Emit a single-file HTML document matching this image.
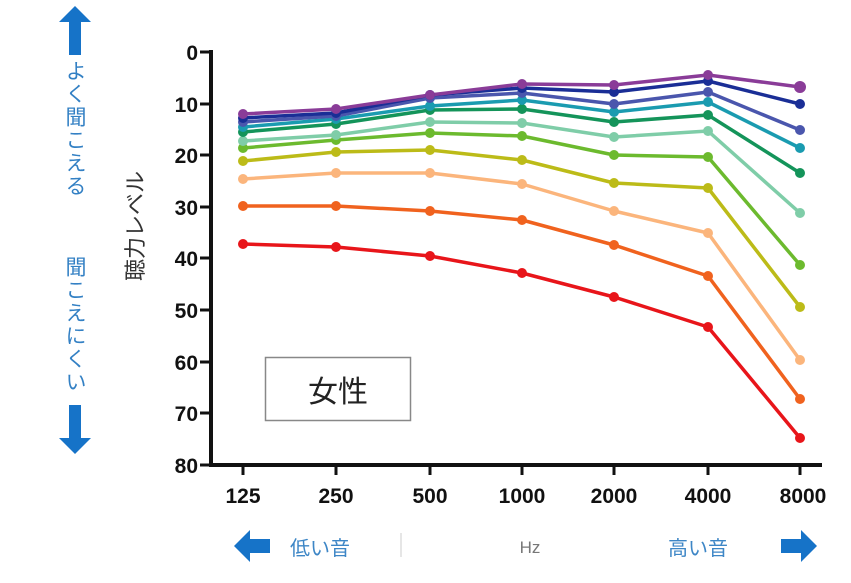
<!DOCTYPE html>
<html><head><meta charset="utf-8"><style>
html,body{margin:0;padding:0;background:#fff;}
body{width:851px;height:583px;overflow:hidden;position:relative;font-family:"Liberation Sans","Noto Sans CJK JP",sans-serif;}
.v{position:absolute;writing-mode:vertical-rl;color:#3380c4;font-size:21px;letter-spacing:2px;line-height:1;font-family:"Liberation Sans","Noto Sans CJK JP",sans-serif;}
</style></head><body>
<svg width="851" height="583" style="position:absolute;left:0;top:0" font-family="Liberation Sans, Noto Sans CJK JP, sans-serif">
<g fill="#1673c8">
<polygon points="75,6 91,22 81,22 81,55 69,55 69,22 59,22"/>
<polygon points="75,454 91,438 81,438 81,405 69,405 69,438 59,438"/>
<polygon points="234,546 250,530 250,539 270,539 270,553 250,553 250,562"/>
<polygon points="817,546 801,530 801,539 781,539 781,553 801,553 801,562"/>
</g>
<g stroke="#111" stroke-width="4" fill="none">
<line x1="211" y1="50" x2="211" y2="467"/>
<line x1="209" y1="465" x2="822" y2="465"/>
</g>
<g stroke="#111" stroke-width="3">
<line x1="200" y1="52" x2="211" y2="52"/><line x1="200" y1="104" x2="211" y2="104"/>
<line x1="200" y1="155" x2="211" y2="155"/><line x1="200" y1="207" x2="211" y2="207"/>
<line x1="200" y1="258" x2="211" y2="258"/><line x1="200" y1="310" x2="211" y2="310"/>
<line x1="200" y1="362" x2="211" y2="362"/><line x1="200" y1="413" x2="211" y2="413"/>
<line x1="200" y1="465" x2="211" y2="465"/>
<line x1="243" y1="465" x2="243" y2="475"/><line x1="336" y1="465" x2="336" y2="475"/>
<line x1="430" y1="465" x2="430" y2="475"/><line x1="522" y1="465" x2="522" y2="475"/>
<line x1="614" y1="465" x2="614" y2="475"/><line x1="708" y1="465" x2="708" y2="475"/>
<line x1="800" y1="465" x2="800" y2="475"/>
</g>
<g font-size="21" font-weight="bold" fill="#111" text-anchor="end">
<text x="198" y="60">0</text><text x="198" y="112">10</text><text x="198" y="163">20</text>
<text x="198" y="215">30</text><text x="198" y="266">40</text><text x="198" y="318">50</text>
<text x="198" y="370">60</text><text x="198" y="421">70</text><text x="198" y="473">80</text>
</g>
<g font-size="21" font-weight="bold" fill="#111" text-anchor="middle">
<text x="243" y="503">125</text><text x="336" y="503">250</text><text x="430" y="503">500</text>
<text x="522" y="503">1000</text><text x="614" y="503">2000</text><text x="708" y="503">4000</text>
<text x="803" y="503">8000</text>
</g>
<text x="0" y="0" font-size="22" fill="#333" text-anchor="middle" transform="translate(143,226) rotate(-90)">聴力レベル</text>
<text x="290" y="555" font-size="20" fill="#3d86c6">低い音</text>
<text x="530" y="553" font-size="17" fill="#777" text-anchor="middle">Hz</text>
<text x="668" y="555" font-size="20" fill="#3d86c6">高い音</text>
<line x1="401" y1="533" x2="401" y2="557" stroke="#e6e6e6" stroke-width="2"/>
<rect x="265.5" y="357.5" width="145" height="63" fill="#fff" stroke="#888" stroke-width="1.5"/>
<text x="338" y="402" font-size="30" fill="#222" text-anchor="middle">女性</text>
<g fill="none" stroke-width="3.5" stroke-linejoin="round">
<polyline stroke="#e8151a" points="243,244 336,247 430,256 522,273 614,297 708,327 800,438"/>
<polyline stroke="#f0621e" points="243,206 336,206 430,211 522,220 614,245 708,276 800,399"/>
<polyline stroke="#fbb57c" points="243,179 336,173 430,173 522,184 614,211 708,233 800,360"/>
<polyline stroke="#bcbb18" points="243,161 336,152 430,150 522,160 614,183 708,188 800,307"/>
<polyline stroke="#6cba2e" points="243,148 336,140 430,133 522,136 614,155 708,157 800,265"/>
<polyline stroke="#7fcda8" points="243,141 336,135 430,122 522,123 614,137 708,131 800,213"/>
<polyline stroke="#14945a" points="243,132 336,124 430,110 522,109 614,122 708,115 800,173"/>
<polyline stroke="#1a9bb0" points="243,127 336,119 430,106 522,100 614,112 708,102 800,148"/>
<polyline stroke="#4a56ad" points="243,122 336,116 430,98 522,93 614,104 708,92 800,130"/>
<polyline stroke="#1a2e96" points="243,118 336,113 430,95 522,88 614,92 708,81 800,104"/>
<polyline stroke="#8a3c98" points="243,114 336,109 430,95 522,84 614,85 708,75 800,87"/>
</g>
<g>
<g fill="#e8151a"><circle cx="243" cy="244" r="5"/><circle cx="336" cy="247" r="5"/><circle cx="430" cy="256" r="5"/><circle cx="522" cy="273" r="5"/><circle cx="614" cy="297" r="5"/><circle cx="708" cy="327" r="5"/><circle cx="800" cy="438" r="5"/></g>
<g fill="#f0621e"><circle cx="243" cy="206" r="5"/><circle cx="336" cy="206" r="5"/><circle cx="430" cy="211" r="5"/><circle cx="522" cy="220" r="5"/><circle cx="614" cy="245" r="5"/><circle cx="708" cy="276" r="5"/><circle cx="800" cy="399" r="5"/></g>
<g fill="#fbb57c"><circle cx="243" cy="179" r="5"/><circle cx="336" cy="173" r="5"/><circle cx="430" cy="173" r="5"/><circle cx="522" cy="184" r="5"/><circle cx="614" cy="211" r="5"/><circle cx="708" cy="233" r="5"/><circle cx="800" cy="360" r="5"/></g>
<g fill="#bcbb18"><circle cx="243" cy="161" r="5"/><circle cx="336" cy="152" r="5"/><circle cx="430" cy="150" r="5"/><circle cx="522" cy="160" r="5"/><circle cx="614" cy="183" r="5"/><circle cx="708" cy="188" r="5"/><circle cx="800" cy="307" r="5"/></g>
<g fill="#6cba2e"><circle cx="243" cy="148" r="5"/><circle cx="336" cy="140" r="5"/><circle cx="430" cy="133" r="5"/><circle cx="522" cy="136" r="5"/><circle cx="614" cy="155" r="5"/><circle cx="708" cy="157" r="5"/><circle cx="800" cy="265" r="5"/></g>
<g fill="#7fcda8"><circle cx="243" cy="141" r="5"/><circle cx="336" cy="135" r="5"/><circle cx="430" cy="122" r="5"/><circle cx="522" cy="123" r="5"/><circle cx="614" cy="137" r="5"/><circle cx="708" cy="131" r="5"/><circle cx="800" cy="213" r="5"/></g>
<g fill="#14945a"><circle cx="243" cy="132" r="5"/><circle cx="336" cy="124" r="5"/><circle cx="430" cy="110" r="5"/><circle cx="522" cy="109" r="5"/><circle cx="614" cy="122" r="5"/><circle cx="708" cy="115" r="5"/><circle cx="800" cy="173" r="5"/></g>
<g fill="#1a9bb0"><circle cx="243" cy="127" r="5"/><circle cx="336" cy="119" r="5"/><circle cx="430" cy="106" r="5"/><circle cx="522" cy="100" r="5"/><circle cx="614" cy="112" r="5"/><circle cx="708" cy="102" r="5"/><circle cx="800" cy="148" r="5"/></g>
<g fill="#4a56ad"><circle cx="243" cy="122" r="5"/><circle cx="336" cy="116" r="5"/><circle cx="430" cy="98" r="5"/><circle cx="522" cy="93" r="5"/><circle cx="614" cy="104" r="5"/><circle cx="708" cy="92" r="5"/><circle cx="800" cy="130" r="5"/></g>
<g fill="#1a2e96"><circle cx="243" cy="118" r="5"/><circle cx="336" cy="113" r="5"/><circle cx="430" cy="95" r="5"/><circle cx="522" cy="88" r="5"/><circle cx="614" cy="92" r="5"/><circle cx="708" cy="81" r="5"/><circle cx="800" cy="104" r="5"/></g>
<g fill="#8a3c98"><circle cx="243" cy="114" r="5"/><circle cx="336" cy="109" r="5"/><circle cx="430" cy="95" r="5"/><circle cx="522" cy="84" r="5"/><circle cx="614" cy="85" r="5"/><circle cx="708" cy="75" r="5"/><circle cx="800" cy="87" r="6"/></g>
</g>
</svg>
<div class="v" style="left:64px;top:60px;">よく聞こえる</div>
<div class="v" style="left:64px;top:256px;">聞こえにくい</div>
</body></html>
